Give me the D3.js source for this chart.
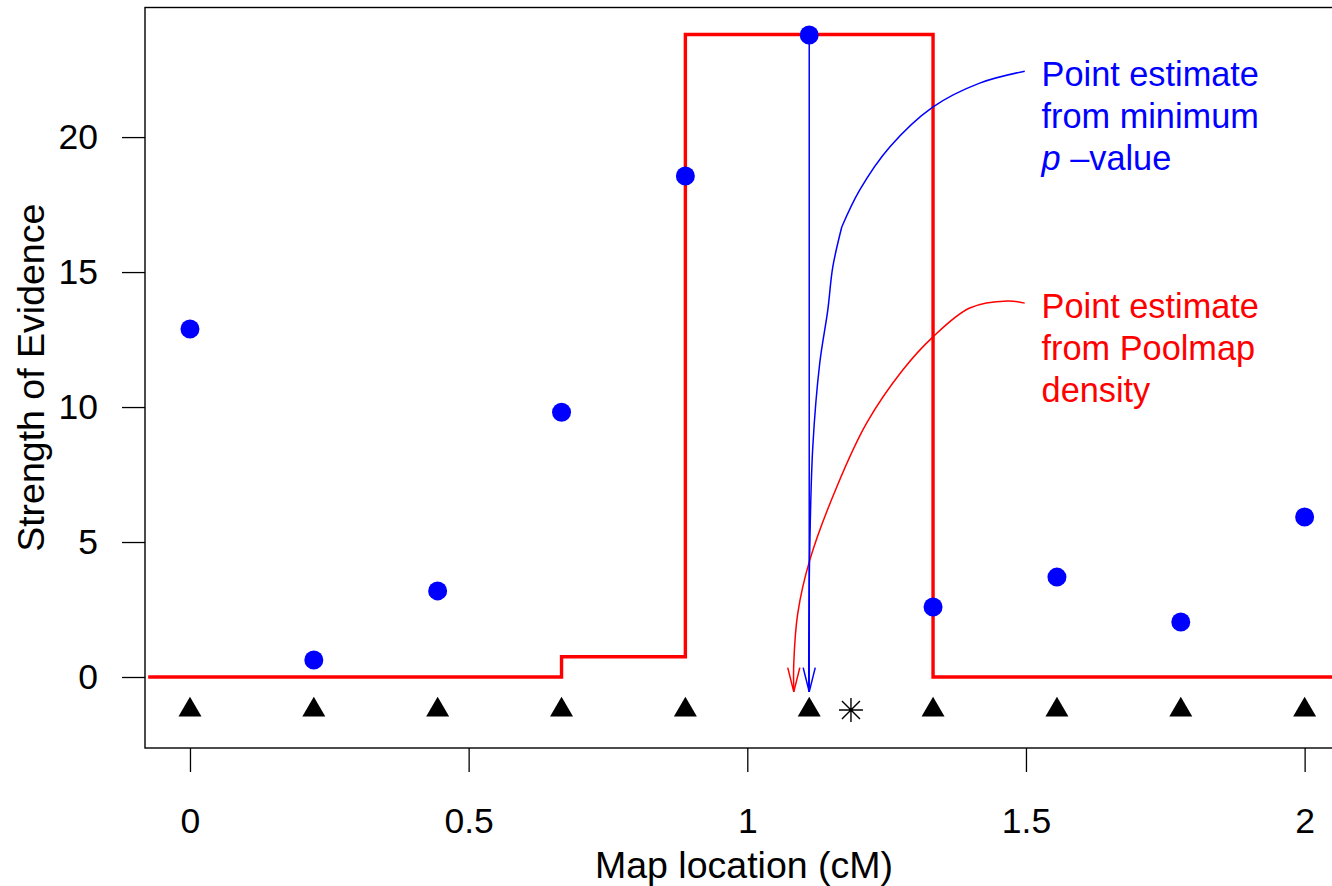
<!DOCTYPE html>
<html>
<head>
<meta charset="utf-8">
<script src="https://cdn.jsdelivr.net/npm/d3@7"></script>
<style>
  body { margin: 0; background: #fff; }
  text { font-family: "Liberation Sans", Arial, Helvetica, sans-serif; }
</style>
</head>
<body>
<svg id="chart" width="1332" height="886"></svg>
<script>
// marker positions along the map (cM) and the evidence at each one
var markerPos = [0, 0.2222, 0.4444, 0.6667, 0.8889, 1.1111, 1.3333, 1.5556, 1.7778, 2];
var evidence = [12.89, 0.63, 3.19, 9.81, 18.56, 23.78, 2.59, 3.70, 2.04, 5.93];
var markerLevel = -1.22;

// Poolmap density as a step function
var stepX = [-0.075, 0.6667, 0.8889, 1.3333, 2.09];
var stepY = [0, 0.75, 23.8, 0, 0];

// true location (star)
var trueLoc = [1.186, -1.22];

var xTicks = [0, 0.5, 1, 1.5, 2];
var xTickLabels = ["0", "0.5", "1", "1.5", "2"];
var yTicks = [0, 5, 10, 15, 20];

// annotation curves (data units)
var blueCurveA = [[1.4978, 22.44], [1.417, 22.0], [1.3327, 21.11], [1.2556, 19.63], [1.2018, 18.04], [1.1695, 16.67]];
var blueCurveB = [[1.1695, 16.67], [1.1534, 15.19], [1.1444, 13.59], [1.130, 11.63], [1.1175, 8.52], [1.1121, 4.81], [1.1103, 1.11], [1.1103, -0.55]];
var blueDrop = [[1.1111, 23.78], [1.1111, -0.55]];
var redCurve = [[1.4978, 13.85], [1.4673, 13.93], [1.3991, 13.67], [1.3327, 12.59], [1.2789, 11.37], [1.2143, 9.41], [1.1605, 7.04], [1.1121, 4.33], [1.0906, 2.37], [1.0834, 0.52], [1.0834, -0.55]];

var blueLabel = ["Point estimate", "from minimum", "value"];
var redLabel = ["Point estimate", "from Poolmap", "density"];
var blueLabelAt = [1.528, 21.88];
var redLabelAt = [1.528, 13.3];

var svg = d3.select("#chart");
var plotL = 145, plotT = 7.5, plotB = 748;

var x = d3.scaleLinear().domain([-0.0807, 2.0807]).range([plotL, 1349.6]);
var y = d3.scaleLinear().domain([-2.63, 24.8]).range([plotB, plotT]);

var line = d3.line().x(function(d) { return x(d[0]); }).y(function(d) { return y(d[1]); });

// box
svg.append("rect")
  .attr("x", plotL).attr("y", plotT)
  .attr("width", x.range()[1] - plotL).attr("height", plotB - plotT)
  .attr("fill", "none").attr("stroke", "#000").attr("stroke-width", 1.4);

// axes
var xAxis = d3.axisBottom(x).tickValues(xTicks)
  .tickFormat(function(d, i) { return xTickLabels[i]; })
  .tickSize(24).tickPadding(12);
var gx = svg.append("g").attr("transform", "translate(0," + plotB + ")").call(xAxis);
gx.select(".domain").remove();
gx.selectAll(".tick line").attr("stroke-width", 1.3);
gx.selectAll(".tick text").attr("font-size", 35.5).attr("fill", "#000")
  .attr("dy", null).attr("y", 85);

var yAxis = d3.axisLeft(y).tickValues(yTicks).tickSize(23).tickPadding(24);
var gy = svg.append("g").attr("transform", "translate(" + plotL + ",0)").call(yAxis);
gy.select(".domain").remove();
gy.selectAll(".tick line").attr("stroke-width", 1.3);
gy.selectAll(".tick text").attr("font-size", 35.5).attr("fill", "#000");

// axis titles
svg.append("text")
  .attr("x", 744).attr("y", 878)
  .attr("text-anchor", "middle").attr("font-size", 37.5)
  .text("Map location (cM)");
svg.append("text")
  .attr("transform", "translate(44," + ((plotT + plotB) / 2) + ") rotate(-90)")
  .attr("text-anchor", "middle").attr("font-size", 37.5)
  .text("Strength of Evidence");

// red step density
var stepData = stepX.map(function(d, i) { return [d, stepY[i]]; });
svg.append("path")
  .datum(stepData)
  .attr("d", line.curve(d3.curveStepAfter))
  .attr("fill", "none").attr("stroke", "#ff0000").attr("stroke-width", 3.4);
line.curve(d3.curveLinear);

// markers
svg.selectAll(".marker")
  .data(markerPos)
  .enter().append("path")
  .attr("class", "marker")
  .attr("transform", function(d) { return "translate(" + x(d) + "," + y(markerLevel) + ")"; })
  .attr("d", d3.symbol().type(d3.symbolTriangle).size(229))
  .attr("fill", "#000");

// star
var sx = x(trueLoc[0]), sy = y(trueLoc[1]);
svg.append("path")
  .attr("d", "M" + (sx - 12) + "," + sy + "H" + (sx + 12) +
             "M" + sx + "," + (sy - 12) + "V" + (sy + 12) +
             "M" + (sx - 9) + "," + (sy - 9) + "L" + (sx + 9) + "," + (sy + 9) +
             "M" + (sx - 9) + "," + (sy + 9) + "L" + (sx + 9) + "," + (sy - 9))
  .attr("stroke", "#000").attr("stroke-width", 1.4).attr("fill", "none");

// annotation lines
function arrowHead(pts, color) {
  var a = pts[pts.length - 2], b = pts[pts.length - 1];
  var x1 = x(a[0]), y1 = y(a[1]), x2 = x(b[0]), y2 = y(b[1]);
  var ang = Math.atan2(y2 - y1, x2 - x1), len = 25, spread = 14 * Math.PI / 180;
  var p = "M" + (x2 - len * Math.cos(ang - spread)) + "," + (y2 - len * Math.sin(ang - spread)) +
          "L" + x2 + "," + y2 +
          "L" + (x2 - len * Math.cos(ang + spread)) + "," + (y2 - len * Math.sin(ang + spread));
  svg.append("path").attr("d", p).attr("fill", "none")
    .attr("stroke", color).attr("stroke-width", 1.5);
}

svg.append("path").datum(blueCurveA)
  .attr("d", line.curve(d3.curveCatmullRom))
  .attr("fill", "none").attr("stroke", "#0000ff").attr("stroke-width", 1.5);
svg.append("path").datum(blueCurveB)
  .attr("d", line.curve(d3.curveCatmullRom))
  .attr("fill", "none").attr("stroke", "#0000ff").attr("stroke-width", 1.5);
svg.append("path").datum(redCurve)
  .attr("d", line.curve(d3.curveCatmullRom))
  .attr("fill", "none").attr("stroke", "#ff0000").attr("stroke-width", 1.5);
line.curve(d3.curveLinear);
svg.append("path").datum(blueDrop)
  .attr("d", line)
  .attr("fill", "none").attr("stroke", "#0000ff").attr("stroke-width", 1.5);
arrowHead(blueDrop, "#0000ff");
arrowHead(redCurve, "#ff0000");

// evidence points
svg.selectAll(".pt")
  .data(markerPos)
  .enter().append("circle")
  .attr("class", "pt")
  .attr("cx", function(d) { return x(d); })
  .attr("cy", function(d, i) { return y(evidence[i]); })
  .attr("r", 9.5)
  .attr("fill", "#0000ff");

// labels
function addLabel(lines, at, color, italicP) {
  var t = svg.append("text")
    .attr("x", x(at[0])).attr("y", y(at[1]))
    .attr("font-size", 34.3).attr("fill", color);
  lines.forEach(function(s, i) {
    var ts = t.append("tspan").attr("x", x(at[0])).attr("dy", i === 0 ? 0 : 42);
    if (italicP && i === lines.length - 1) {
      ts.append("tspan").attr("font-style", "italic").text("p");
      ts.append("tspan").text(" \u2013" + s);
    } else {
      ts.text(s);
    }
  });
}
addLabel(blueLabel, blueLabelAt, "#0000ff", true);
addLabel(redLabel, redLabelAt, "#ff0000", false);
</script>
</body>
</html>
